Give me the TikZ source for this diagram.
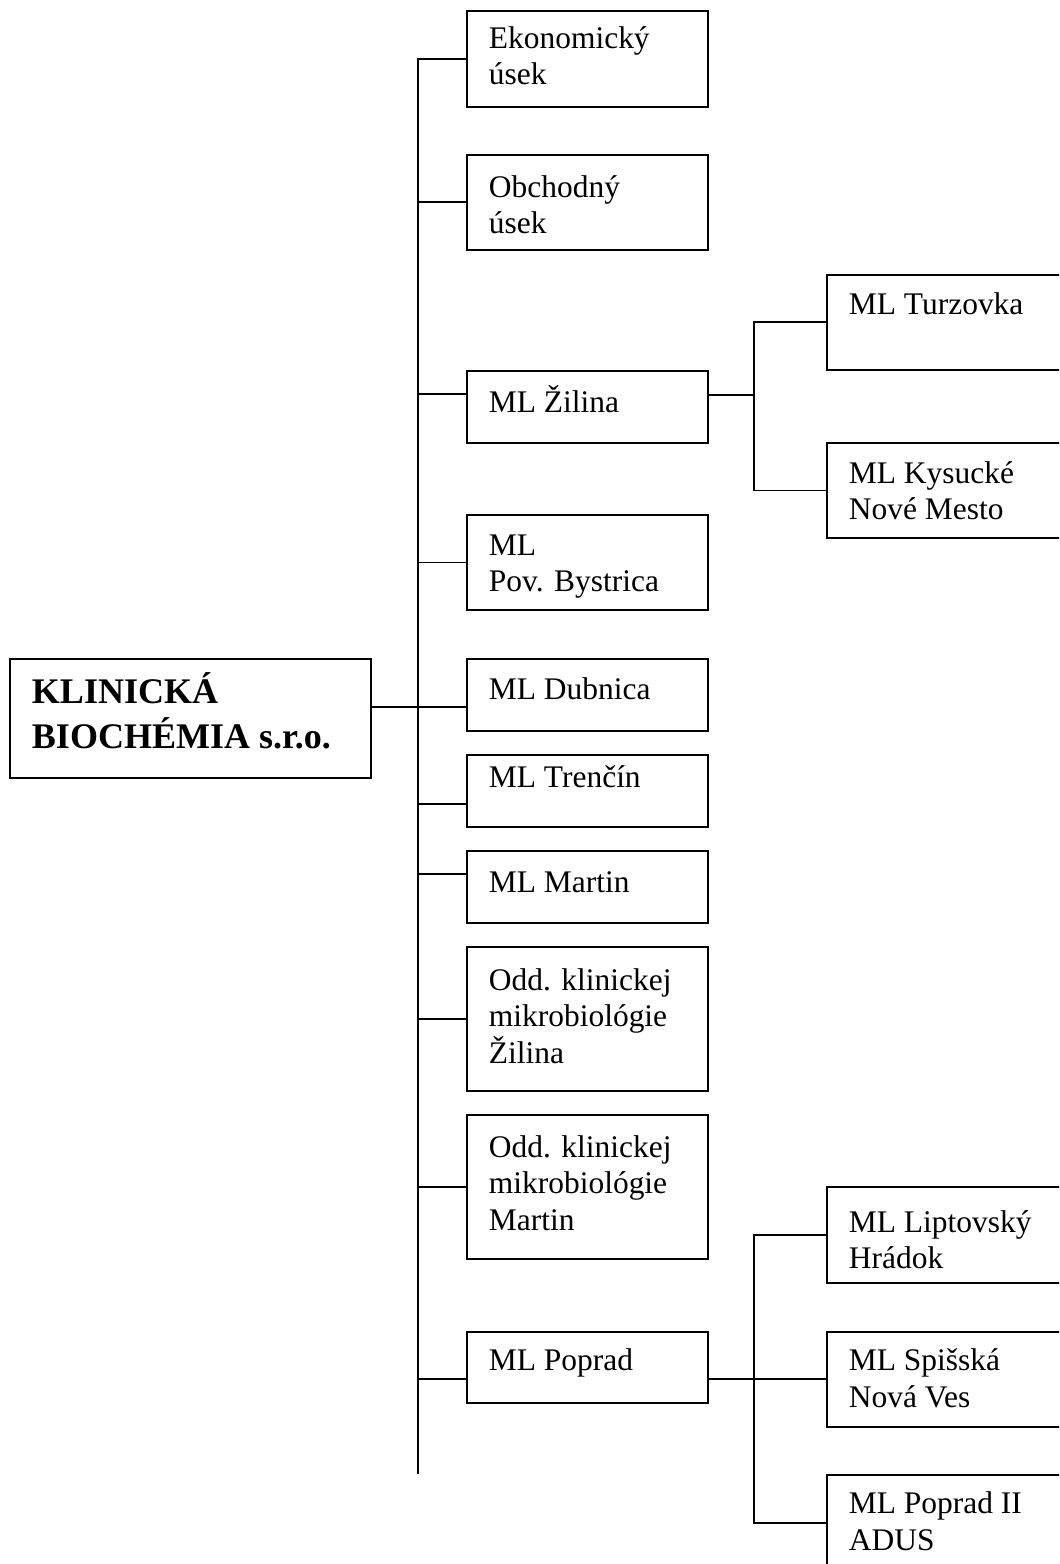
\documentclass[tikz,border=0pt]{standalone}
\usepackage{fontspec}
\setmainfont{Liberation Serif}
\newlength{\pxu}
\setlength{\pxu}{0.02cm}
% box text: [first baseline]{height}{width}{text}
\newcommand{\unittext}[4][41]{\parbox[t][#2\pxu][t]{#3\pxu}{\raggedright\leftskip=22\pxu\rule{0pt}{#1\pxu}#4}}
\begin{document}
\begin{tikzpicture}[x=0.02cm, y=-0.02cm, line width=1.1pt,
    unit/.style={draw, anchor=north west, inner sep=0pt, font=\fontsize{17.9}{20.5}\selectfont}]
    \useasboundingbox (0,0) rectangle (1059,1564);
    \clip (0,0) rectangle (1059,1564);

    % main box
    \node[unit, font=\bfseries\fontsize{20.5}{25.5}\selectfont] (main) at (9,658) {\unittext[45]{119}{361}{KLINICKÁ\\BIOCHÉMIA s.r.o.}};

    % first level
    \node[unit] (ekon) at (466,10) {\unittext[38]{96}{241}{Ekonomický\\úsek}};
    \node[unit] (obch) at (466,154) {\unittext[43]{95}{241}{Obchodný\\úsek}};
    \node[unit] (zilina) at (466,370) {\unittext[42]{72}{241}{ML Žilina}};
    \node[unit] (povbys) at (466,514) {\unittext{95}{241}{ML\\Pov. Bystrica}};
    \node[unit] (dubnica) at (466,658) {\unittext{72}{241}{ML Dubnica}};
    \node[unit] (trencin) at (466,754) {\unittext[33]{72}{241}{ML Trenčín}};
    \node[unit] (martin) at (466,850) {\unittext[42]{72}{241}{ML Martin}};
    \node[unit] (oddzil) at (466,946) {\unittext[44]{144}{241}{Odd. klinickej\\mikrobiológie\\Žilina}};
    \node[unit] (oddmar) at (466,1114) {\unittext[43]{144}{241}{Odd. klinickej\\mikrobiológie\\Martin}};
    \node[unit] (poprad) at (466,1331) {\unittext[39]{71}{241}{ML Poprad}};

    % second level
    \node[unit] (turz) at (826,274) {\unittext[40]{95}{260}{ML Turzovka}};
    \node[unit] (kysuce) at (826,442) {\unittext{95}{260}{ML Kysucké\\Nové Mesto}};
    \node[unit] (liptov) at (826,1186) {\unittext[46]{96}{260}{ML Liptovský\\Hrádok}};
    \node[unit] (spis) at (826,1331) {\unittext[39]{95}{260}{ML Spišská\\Nová Ves}};
    \node[unit] (adus) at (826,1474) {\unittext[39]{96}{260}{ML Poprad II\\ADUS}};

    % trunk and joins
    \coordinate (trunkend) at (418,1474);
    \coordinate (zilsub) at (754,0);
    \coordinate (popsub) at (754,0);
    \coordinate (mainR) at ([yshift=.23cm]main.east);
    \coordinate (zilinaL) at ([yshift=.26cm]zilina.west);
    \coordinate (zilinaR) at ([yshift=.24cm]zilina.east);
    \coordinate (trencinL) at ([yshift=-.26cm]trencin.west);
    \coordinate (martinL) at ([yshift=.26cm]martin.west);
    \coordinate (popradL) at ([yshift=-.23cm]poprad.west);
    \coordinate (popradR) at ([yshift=-.23cm]poprad.east);

    \draw (ekon.west) -| (trunkend);
    \draw (obch.west) -- (obch.west -| trunkend);
    \draw (zilinaL) -- (zilinaL -| trunkend);
    \draw (povbys.west) -- (povbys.west -| trunkend);
    \draw (mainR) -- (mainR -| dubnica.west);
    \draw (trencinL) -- (trencinL -| trunkend);
    \draw (martinL) -- (martinL -| trunkend);
    \draw (oddzil.west) -- (oddzil.west -| trunkend);
    \draw (oddmar.west) -- (oddmar.west -| trunkend);
    \draw (popradL) -- (popradL -| trunkend);

    % branches to the right
    \draw (turz.west) -- (zilsub |- turz.west) -- (zilsub |- kysuce.west) -- (kysuce.west);
    \draw (zilinaR) -- (zilsub |- zilinaR);
    \draw (liptov.west) -- (popsub |- liptov.west) -- (popsub |- adus.west) -- (adus.west);
    \draw (popradR) -- (popradR -| spis.west);
\end{tikzpicture}
\end{document}
